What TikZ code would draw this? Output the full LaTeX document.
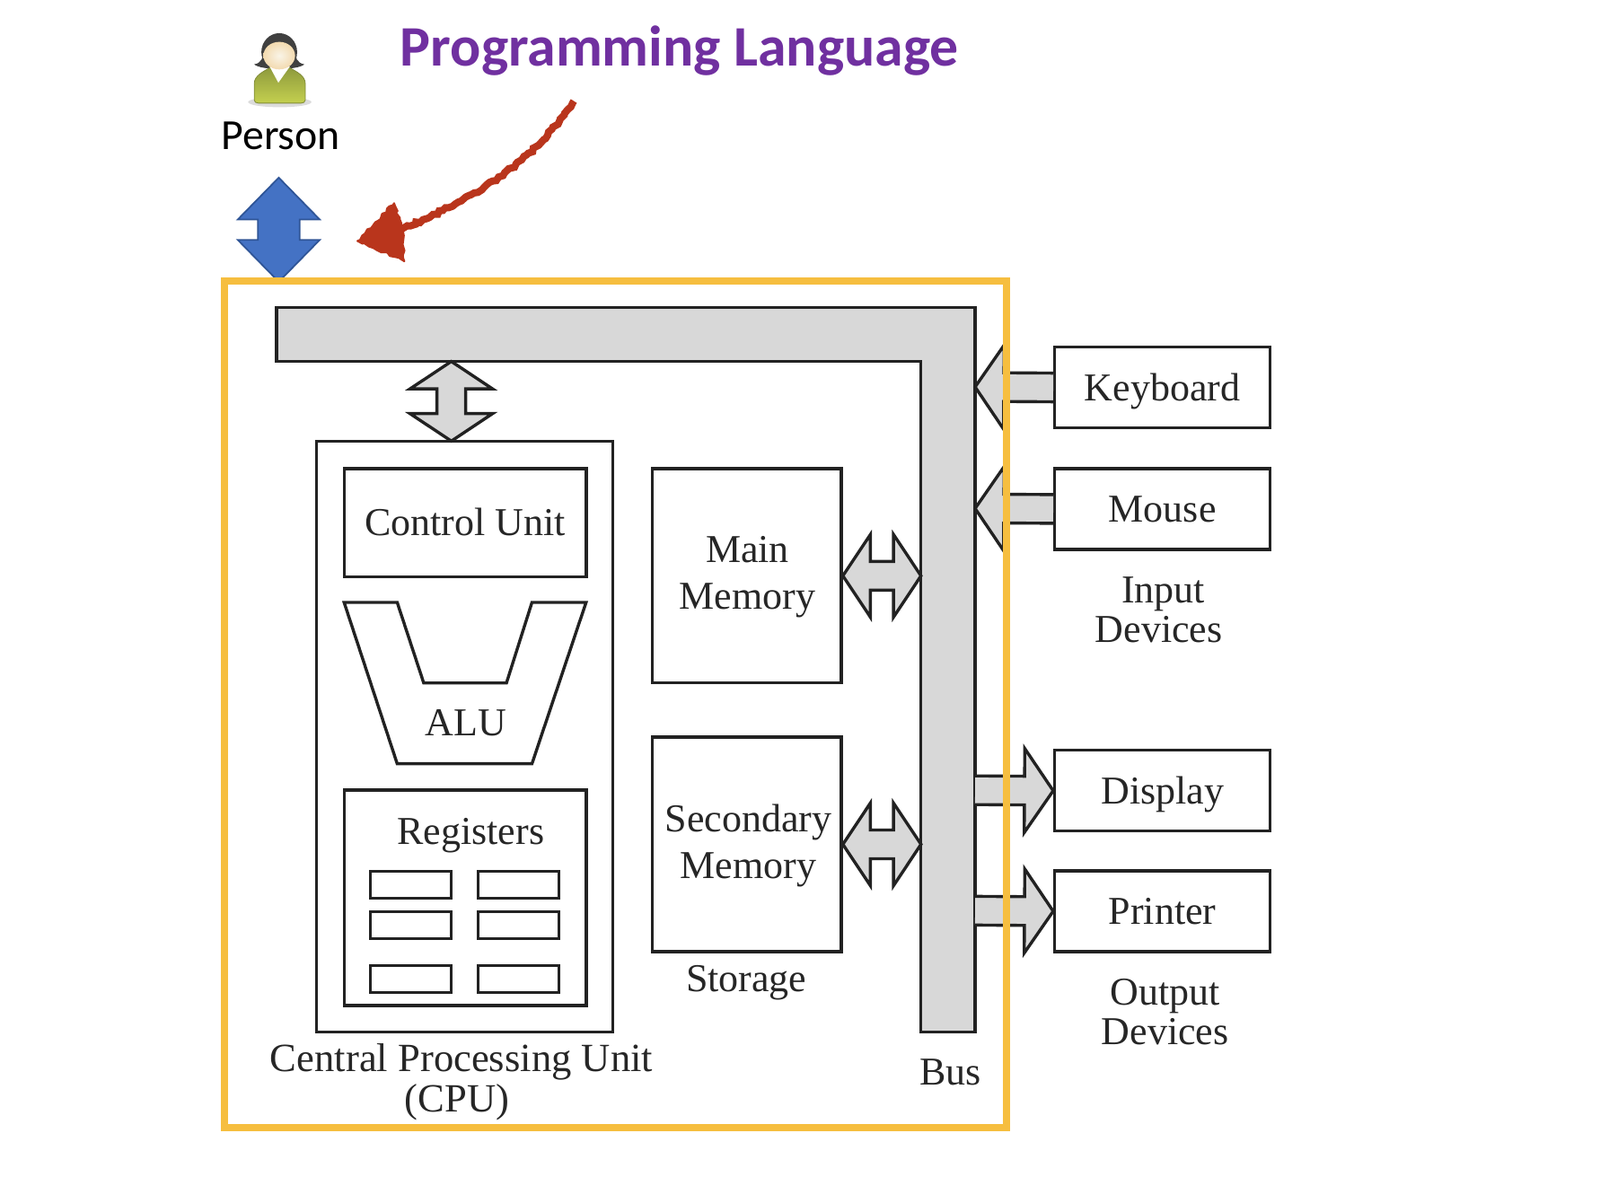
\documentclass[tikz,border=0pt]{standalone}
\usepackage{fontspec}
\setmainfont{Liberation Serif}
\newfontfamily\calibrifont{Carlito}
\usetikzlibrary{
    calc,
    decorations.pathmorphing,
}
\definecolor{framecolor}{HTML}{F6BE3F}
\definecolor{titlecolor}{HTML}{7030A0}
\definecolor{penred}{HTML}{B9351C}
\definecolor{blockblue}{HTML}{4472C4}
\definecolor{blockblueline}{HTML}{2F5597}
\definecolor{inkline}{HTML}{222222}
\definecolor{busgray}{HTML}{D8D8D8}
\definecolor{shirttop}{HTML}{8E9A3D}
\definecolor{shirtlow}{HTML}{C4D04F}
\definecolor{skin}{HTML}{F1E4C3}
\tikzset{
    unitbox/.style={draw=inkline, line width=1.7pt, fill=white, inner sep=0pt},
    boxtext/.style={unitbox, text=black!85, font=\fontsize{22}{22}\selectfont, text height=14.6pt, text depth=0pt},
    plainlabel/.style={font=\fontsize{22}{22}\selectfont, text=black!85, align=center, inner sep=0pt},
    blockline/.style={draw=inkline, line width=1.7pt, fill=busgray, line join=miter},
    penrough/.style={decorate, decoration={random steps, segment length=2pt, amplitude=0.8pt}},
    blockboth/.style n args={3}{to path={
        -- ($(\tikztostart)!#1!(\tikztotarget)!#2!90:(\tikztotarget)$)
        -- ($(\tikztostart)!#1!(\tikztotarget)!#3!90:(\tikztotarget)$)
        -- ($(\tikztotarget)!#1!(\tikztostart)!#3!-90:(\tikztostart)$)
        -- ($(\tikztotarget)!#1!(\tikztostart)!#2!-90:(\tikztostart)$)
        -- (\tikztotarget)
        -- ($(\tikztotarget)!#1!(\tikztostart)!#2!90:(\tikztostart)$)
        -- ($(\tikztotarget)!#1!(\tikztostart)!#3!90:(\tikztostart)$)
        -- ($(\tikztostart)!#1!(\tikztotarget)!#3!-90:(\tikztotarget)$)
        -- ($(\tikztostart)!#1!(\tikztotarget)!#2!-90:(\tikztotarget)$)
        -- cycle}},
    blockone/.style n args={3}{to path={
        ($(\tikztostart)!#3!90:(\tikztotarget)$)
        -- ($(\tikztotarget)!#1!(\tikztostart)!#3!-90:(\tikztostart)$)
        -- ($(\tikztotarget)!#1!(\tikztostart)!#2!-90:(\tikztostart)$)
        -- (\tikztotarget)
        -- ($(\tikztotarget)!#1!(\tikztostart)!#2!90:(\tikztostart)$)
        -- ($(\tikztotarget)!#1!(\tikztostart)!#3!90:(\tikztostart)$)
        -- ($(\tikztostart)!#3!-90:(\tikztotarget)$)}},
}
\begin{document}
\begin{tikzpicture}[x=0.5686pt, y=-0.5686pt]
        \useasboundingbox (0,0) rectangle (1567,1152);

        % the person
        \fill[black!25, opacity=0.55] (274,100) ellipse (31 and 5);
        \fill[black!75] (273.5,51) ellipse (17.5 and 18.5);
        \fill[black!75] (249,63) .. controls (256,62) and (258,56) .. (258,50) -- (289,50) .. controls (289,56) and (291,62) .. (298,63) .. controls (292,69) and (255,69) .. (249,63) -- cycle;
        \shade[top color=shirttop, bottom color=shirtlow, draw=shirttop!90!black, line width=0.4pt] (249,98) -- (249,82) .. controls (249,74) and (258,70) .. (265,66) -- (283,66) .. controls (290,70) and (299,74) .. (299,82) -- (299,98) .. controls (299,100) and (297,101) .. (295,101) -- (253,101) .. controls (251,101) and (249,100) .. (249,98) -- cycle;
        \fill[white] (264,65) -- (272.6,81) -- (284,65) -- cycle;
        \shade[inner color=white!60!skin, outer color=skin!90!orange] (273.5,54.5) ellipse (15.5 and 13.5);
        \node[font=\calibrifont\fontsize{23.9}{23.9}\selectfont, inner sep=0pt] (Person) at (275,133) {Person};

        % title and pen stroke
        \node[font=\calibrifont\bfseries\fontsize{31.9}{31.9}\selectfont, text=titlecolor, inner sep=0pt] (Title) at (665.5,50) {Programming Language};
        \coordinate (PenStart) at (562,99);
        \coordinate (PenEnd) at (394,224);
        \draw[penred, line width=4pt, penrough] (PenStart) .. controls (520,160) and (470,192) .. (PenEnd);
        \filldraw[penred, line width=1pt, line join=round, penrough] (350,236) -- (386,199) -- (395,228) -- (396,256) -- cycle;

        \coordinate (PersonTop) at (273,174);
        \coordinate (PersonEnd) at (273,276);
        \draw[fill=blockblue, draw=blockblueline, line width=0.9pt, blockboth={23.3pt}{22.8pt}{11.6pt}] (PersonTop) to (PersonEnd);

        % bus
        \coordinate (BusCpu) at (442,354);
        \coordinate (CpuTop) at (442,432);
        \coordinate (BusMain) at (902,564);
        \coordinate (BusSecond) at (902,827);
        \coordinate (BusKeyboard) at (955,379);
        \coordinate (BusMouse) at (955,498);
        \coordinate (BusDisplay) at (955,774);
        \coordinate (BusPrinter) at (955,892);
        \draw[blockline] (271,301) -- (955,301) -- (955,1011) -- (902,1011) -- (902,354) -- (271,354) -- cycle;
        \node[plainlabel] (BusText) at (931,1050) {Bus};

        % processor
        \node[unitbox, minimum width=164.9pt, minimum height=329.2pt] (Cpu) at (455,721.5) {};
        \node[boxtext, minimum width=134.8pt, minimum height=60.3pt] (Control) at (455.5,512) {Control Unit};
        \draw[draw=inkline, line width=1.7pt] (337,590) -- (389,590) -- (415,669) -- (496,669) -- (521,590) -- (574,590) -- (521,748) -- (389,748) -- cycle;
        \node[plainlabel] (AluText) at (456,708) {ALU};
        \node[unitbox, minimum width=134.8pt, minimum height=120pt] (Registers) at (455.5,879.5) {};
        \node[plainlabel] (RegText) at (461,818) {Registers};
        \foreach \regx/\regcol in {402.5/a, 507.5/b} {
            \foreach \regy/\regrow in {866.5/a, 906/b, 959/c} {
                \node[unitbox, line width=1.4pt, minimum width=45pt, minimum height=15pt] (Reg\regcol\regrow) at (\regx,\regy) {};
            }
        }
        \node[plainlabel, font=\fontsize{22.3}{22.3}\selectfont] (CpuText) at (452,1060) {Central Processing Unit\\[0.5pt](CPU)\hspace*{5pt}};
        \draw[blockline, blockboth={15.3pt}{23pt}{8pt}] (BusCpu) to (CpuTop);

        % memories
        \node[unitbox, minimum width=105.2pt, minimum height=119.4pt] (Main) at (731.5,564) {};
        \node[plainlabel] (MainText) at (732,565) {Main\\[4pt]Memory};
        \node[unitbox, minimum width=105.2pt, minimum height=119.4pt] (Second) at (731.5,827) {};
        \node[plainlabel] (SecondText) at (733,828) {Secondary\\[4pt]Memory};
        \node[plainlabel] (StorageText) at (731,963) {Storage};
        \draw[blockline, blockboth={15.3pt}{23pt}{8pt}] (Main.east) to (BusMain);
        \draw[blockline, blockboth={15.3pt}{23pt}{8pt}] (Second.east) to (BusSecond);

        % devices
        \node[boxtext, minimum width=120pt, minimum height=45pt] (Keyboard) at (1138.5,379.5) {Keyboard};
        \node[boxtext, minimum width=120pt, minimum height=45pt] (Mouse) at (1138.5,498.5) {Mouse};
        \node[plainlabel] (InputText) at (1135,597) {\hspace*{5pt}Input\\Devices};
        \node[boxtext, minimum width=120pt, minimum height=45pt] (Display) at (1138.5,774.5) {Display};
        \node[boxtext, minimum width=120pt, minimum height=45pt] (Printer) at (1138.5,892.5) {Printer};
        \node[plainlabel] (OutputText) at (1141,991) {Output\\Devices};

        \draw[blockline, blockone={16pt}{23.4pt}{8pt}] (Keyboard.west) to (BusKeyboard);
        \draw[blockline, blockone={16pt}{23.4pt}{8pt}] (Mouse.west) to (BusMouse);
        \draw[blockline, blockone={16pt}{23.4pt}{8pt}] (BusDisplay) to (Display.west);
        \draw[blockline, blockone={16pt}{23.4pt}{8pt}] (BusPrinter) to (Printer.west);

        % frame goes over everything
        \node[draw=framecolor, line width=4pt, minimum width=435.6pt, minimum height=471.4pt, inner sep=0pt] (Frame) at (603,689.5) {};
    \end{tikzpicture}
\end{document}
